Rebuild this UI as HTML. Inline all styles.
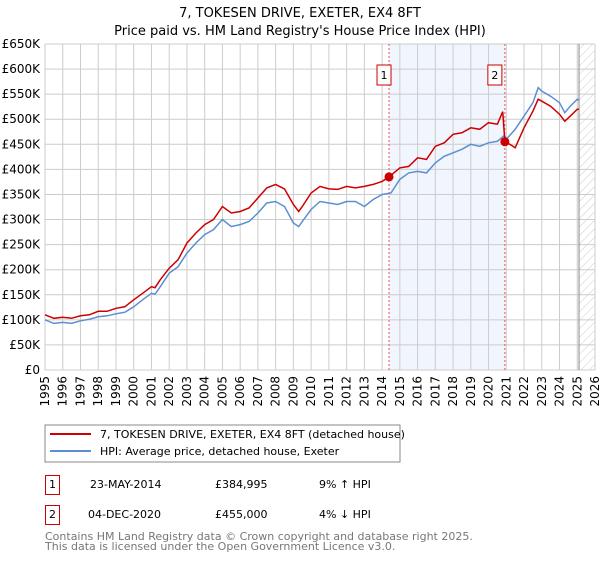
<!DOCTYPE html>
<html><head><meta charset="utf-8"><style>
body{margin:0;background:#fff;font-family:"Liberation Sans","DejaVu Sans",sans-serif;}
svg text{font-family:"DejaVu Sans","Liberation Sans",sans-serif;}
</style></head><body>
<svg id="chart" width="600" height="560" xmlns="http://www.w3.org/2000/svg">
<defs><pattern id="hatch" width="6" height="6" patternUnits="userSpaceOnUse" patternTransform="rotate(45)"><line x1="0" y1="0" x2="0" y2="6" stroke="#ccc" stroke-width="1"/></pattern></defs>
<text x="300" y="17" text-anchor="middle" font-size="13">7, TOKESEN DRIVE, EXETER, EX4 8FT</text>
<text x="300" y="35" text-anchor="middle" font-size="13">Price paid vs. HM Land Registry's House Price Index (HPI)</text>
<g id="grid"></g><g id="marks"></g><g id="axes"></g>
<rect x="45" y="425" width="355" height="37" fill="#fff" stroke="#888"/>
<line x1="50" y1="434" x2="91" y2="434" stroke="#cc0000" stroke-width="2"/>
<text x="100" y="438" font-size="11">7, TOKESEN DRIVE, EXETER, EX4 8FT (detached house)</text>
<line x1="50" y1="451" x2="91" y2="451" stroke="#5b8fd0" stroke-width="2"/>
<text x="100" y="455" font-size="11">HPI: Average price, detached house, Exeter</text>
<g font-size="11">
<rect x="45.5" y="475.5" width="14" height="19" fill="#fff" stroke="#c00"/><text x="52.5" y="488" text-anchor="middle">1</text>
<text x="90" y="488">23-MAY-2014</text><text x="215" y="488">£384,995</text><text x="319" y="488">9% ↑ HPI</text></g>
<g font-size="11">
<rect x="45.5" y="505.5" width="14" height="19" fill="#fff" stroke="#c00"/><text x="52.5" y="518" text-anchor="middle">2</text>
<text x="88" y="518">04-DEC-2020</text><text x="215" y="518">£455,000</text><text x="319" y="518">4% ↓ HPI</text></g>
<text x="45" y="540" font-size="11" fill="#777">Contains HM Land Registry data © Crown copyright and database right 2025.</text>
<text x="45" y="550" font-size="11" fill="#777">This data is licensed under the Open Government Licence v3.0.</text>
</svg>
<script>
const hpiYears=[1995,1995.5,1996,1996.5,1997,1997.5,1998,1998.5,1999,1999.5,2000,2000.5,2001,2001.2,2001.5,2002,2002.5,2003,2003.5,2004,2004.5,2005,2005.5,2006,2006.5,2007,2007.5,2008,2008.5,2009,2009.3,2009.5,2010,2010.5,2011,2011.5,2012,2012.5,2013,2013.5,2014,2014.5,2015,2015.5,2016,2016.5,2017,2017.5,2018,2018.5,2019,2019.5,2020,2020.5,2020.9,2021,2021.5,2022,2022.5,2022.8,2023,2023.5,2024,2024.3,2024.6,2025,2025.1];
const hpiValues=[100,93,95,93,98,101,106,108,112,115,126,140,153,151,166,193,206,233,253,270,280,300,286,290,296,313,333,336,326,293,286,296,320,336,333,330,336,336,326,340,350,353,380,393,396,393,413,426,433,440,450,446,453,456,468,460,480,506,533,563,556,546,533,513,526,540,538];
const priceYears=[1995,1995.5,1996,1996.5,1997,1997.5,1998,1998.5,1999,1999.5,2000,2000.5,2001,2001.2,2001.5,2002,2002.5,2003,2003.5,2004,2004.5,2005,2005.5,2006,2006.5,2007,2007.5,2008,2008.5,2009,2009.3,2009.5,2010,2010.5,2011,2011.5,2012,2012.5,2013,2013.5,2014,2014.39,2015,2015.5,2016,2016.5,2017,2017.5,2018,2018.5,2019,2019.5,2020,2020.5,2020.8,2020.92,2021.2,2021.5,2022,2022.5,2022.8,2023,2023.5,2024,2024.3,2024.6,2025,2025.1];
const priceValues=[110,103,105,103,108,110,117,117,123,126,140,153,166,164,180,203,220,253,273,290,300,326,313,316,323,343,363,370,361,330,316,326,353,366,361,360,366,363,366,370,376,385,403,406,423,420,446,453,470,473,483,480,493,490,515,455,450,443,483,516,540,536,526,510,496,506,520,520];
const saleYears=[2014.39,2020.92];
const saleValues=[384.995,455];
const saleLabels=["1","2"];
const yTicks=[0,50,100,150,200,250,300,350,400,450,500,550,600,650];
const yTickLabels=["£0","£50K","£100K","£150K","£200K","£250K","£300K","£350K","£400K","£450K","£500K","£550K","£600K","£650K"];
const xTicks=[1995,1996,1997,1998,1999,2000,2001,2002,2003,2004,2005,2006,2007,2008,2009,2010,2011,2012,2013,2014,2015,2016,2017,2018,2019,2020,2021,2022,2023,2024,2025,2026];
const NS="http://www.w3.org/2000/svg";
const X0=45,X1=595,Y0=370,Y1=44;
const xs=v=>X0+(v-1995)*(X1-X0)/31;
const ys=v=>Y0-v*(Y0-Y1)/650;
function mk(tag,attrs,parent,text){const e=document.createElementNS(NS,tag);for(const k in attrs)e.setAttribute(k,attrs[k]);if(text!==undefined)e.textContent=text;parent.appendChild(e);return e;}
const grid=document.getElementById('grid'),marks=document.getElementById('marks'),axes=document.getElementById('axes');
let sh=mk('rect',{x:xs(saleYears[0]),y:Y1,width:xs(saleYears[1])-xs(saleYears[0]),height:Y0-Y1,fill:'#eef3fd',opacity:0.8},grid);


let ht=mk('rect',{x:xs(2025.1),y:Y1,width:X1-xs(2025.1),height:Y0-Y1,fill:'url(#hatch)'},grid);


yTicks.forEach((t,i)=>{
 let l=mk('line',{x1:X0,x2:X1,y1:ys(t),y2:ys(t),stroke:'#ccc','stroke-width':1},grid);
 
 
 let tx=mk('text',{x:40,y:ys(t)+4,'text-anchor':'end','font-size':12},axes,yTickLabels[i]);
 
 
});
xTicks.forEach(t=>{
 let l=mk('line',{x1:xs(t),x2:xs(t),y1:Y1,y2:Y0,stroke:'#ccc','stroke-width':1},grid);
 
 
 let tx=mk('text',{x:0,y:0,'text-anchor':'end','font-size':12,transform:`translate(${xs(t)+4},${Y0+6}) rotate(-90)`},axes,String(t));
 
 
});
let vl=mk('line',{x1:xs(2025.1),x2:xs(2025.1),y1:Y1,y2:Y0,stroke:'#888','stroke-width':1},grid);


saleYears.forEach((y,i)=>{
 let l=mk('line',{x1:xs(y),x2:xs(y),y1:Y1,y2:Y0,stroke:'#e55','stroke-width':1,'stroke-dasharray':'2,2'},grid);
 
 
});
function path(xa,va){return xa.map((x,i)=>(i?'L':'M')+xs(x).toFixed(1)+','+ys(va[i]).toFixed(1)).join('');}
let hp=mk('path',{d:path(hpiYears,hpiValues),fill:'none',stroke:'#5b8fd0','stroke-width':1.5},marks);


let pp=mk('path',{d:path(priceYears,priceValues),fill:'none',stroke:'#cc0000','stroke-width':1.5},marks);


saleYears.forEach((y,i)=>{
 let c=mk('circle',{cx:xs(y),cy:ys(saleValues[i]),r:4.5,fill:'#cc0000'},marks);
 
 
 let bx=xs(y)-(i==0?12:17);
 let r=mk('rect',{x:bx,y:65,width:14,height:20,fill:'#fff',stroke:'#c00'},marks);
 
 
 let t=mk('text',{x:bx+7,y:79,'text-anchor':'middle','font-size':11},marks,saleLabels[i]);
 
 
});
</script>
</body></html>
